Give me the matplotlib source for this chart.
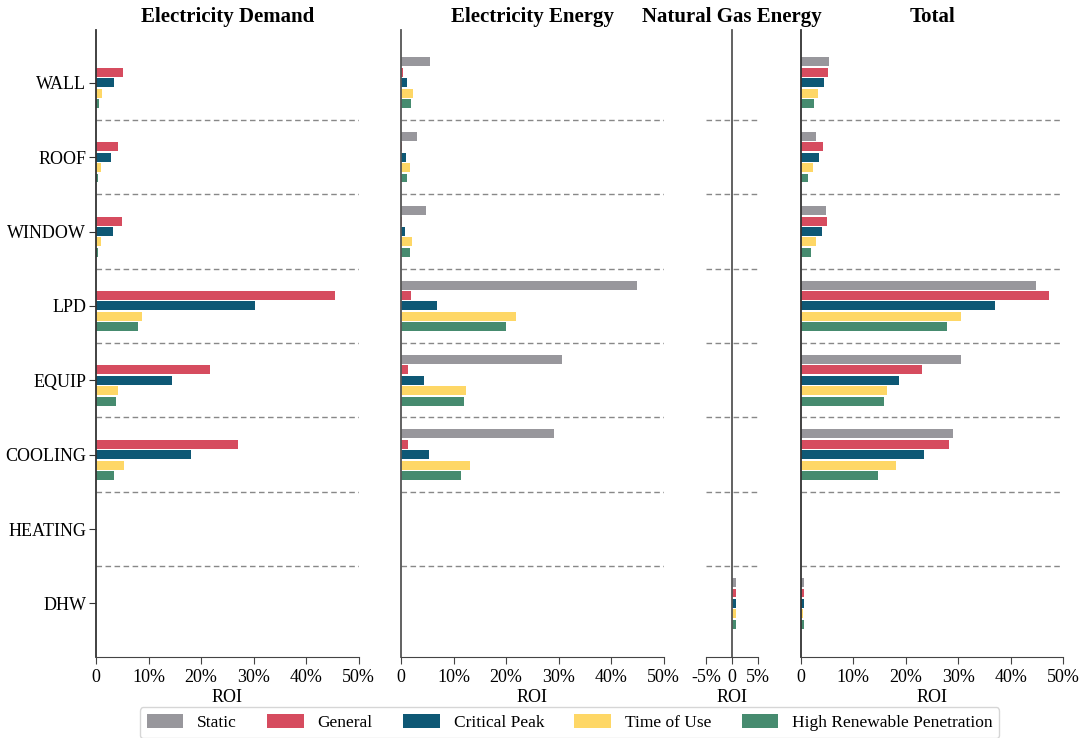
import matplotlib
matplotlib.use('Agg')
import matplotlib.pyplot as plt
import numpy as np
from matplotlib.ticker import FuncFormatter

plt.rcParams['font.family'] = ['Liberation Serif', 'DejaVu Serif']

measures = ['WALL', 'ROOF', 'WINDOW', 'LPD', 'EQUIP', 'COOLING', 'HEATING', 'DHW']
tariffs = ['Static', 'General', 'Critical Peak', 'Time of Use', 'High Renewable Penetration']
colors = ['#98979c', '#d64c5f', '#0e5875', '#fed766', '#468b6f']

# ROI in percent, one list per tariff, ordered as measures
demand_static = [0, 0, 0, 0, 0, 0, 0, 0]
demand_general = [5.1, 4.2, 4.9, 45.4, 21.7, 27.0, 0, 0]
demand_critical = [3.4, 2.9, 3.2, 30.2, 14.4, 18.1, 0, 0]
demand_tou = [1.1, 0.9, 0.9, 8.7, 4.1, 5.3, 0, 0]
demand_hrp = [0.6, 0.3, 0.3, 8.0, 3.8, 3.4, 0, 0]

elec_static = [5.5, 3.0, 4.8, 45.0, 30.7, 29.1, 0, 0]
elec_general = [0.3, 0.2, 0.2, 1.9, 1.3, 1.3, 0, 0]
elec_critical = [1.1, 0.95, 0.8, 6.9, 4.4, 5.3, 0, 0]
elec_tou = [2.3, 1.7, 2.1, 21.9, 12.4, 13.1, 0, 0]
elec_hrp = [1.9, 1.1, 1.7, 20.0, 12.0, 11.4, 0.05, 0.05]

gas_static = [0, 0, 0, 0, 0, 0, 0, 0.7]
gas_general = [0, 0, 0, 0, 0, 0, 0, 0.7]
gas_critical = [0, 0, 0, 0, 0, 0, 0, 0.7]
gas_tou = [0, 0, 0, 0, 0, 0, 0, 0.7]
gas_hrp = [0, 0, 0, 0, 0, 0, 0, 0.7]

total_static = [5.4, 2.9, 4.8, 44.7, 30.5, 29.0, 0, 0.6]
total_general = [5.2, 4.2, 5.0, 47.3, 23.0, 28.3, 0, 0.6]
total_critical = [4.4, 3.5, 4.1, 37.0, 18.8, 23.4, 0, 0.6]
total_tou = [3.3, 2.3, 2.9, 30.5, 16.5, 18.2, 0, 0.5]
total_hrp = [2.5, 1.4, 2.0, 27.9, 15.8, 14.8, 0, 0.6]

panels = [
    ('Electricity Demand', [demand_static, demand_general, demand_critical, demand_tou, demand_hrp],
     (0, 50), [0, 10, 20, 30, 40, 50]),
    ('Electricity Energy', [elec_static, elec_general, elec_critical, elec_tou, elec_hrp],
     (0, 50), [0, 10, 20, 30, 40, 50]),
    ('Natural Gas Energy', [gas_static, gas_general, gas_critical, gas_tou, gas_hrp],
     (-5, 5), [-5, 0, 5]),
    ('Total', [total_static, total_general, total_critical, total_tou, total_hrp],
     (0, 50), [0, 10, 20, 30, 40, 50]),
]

fig = plt.figure(figsize=(10.81, 7.38), dpi=100)
bottom, height = 0.1098, 0.8496
rects = [(0.0888, 0.243), (0.3710, 0.243), (0.6531, 0.0481), (0.7407, 0.243)]

pct = FuncFormatter(lambda v, p: '0' if abs(v) < 1e-9 else f'{v:.0f}%')
y = np.arange(len(measures))
pitch, bh = 0.14, 0.12

for i, ((title, series, xlim, xticks), (left, width)) in enumerate(zip(panels, rects)):
    ax = fig.add_axes([left, bottom, width, height])
    for k, (vals, c) in enumerate(zip(series, colors)):
        ax.barh(y + (k - 2) * pitch, vals, height=bh, color=c,
                label=tariffs[k], zorder=2)
    for yy in np.arange(0.5, len(measures) - 1, 1):
        ax.axhline(yy, color='#888888', ls='--', lw=1.0, dashes=(4, 2.5), zorder=1)
    ax.set_xlim(*xlim)
    ax.set_ylim(7.72, -0.71)
    ax.set_xticks(xticks)
    ax.xaxis.set_major_formatter(pct)
    ax.tick_params(axis='x', labelsize=13, length=5, color='#444444')
    ax.set_xlabel('ROI', fontsize=13, labelpad=2)
    ax.set_title(title, fontsize=15, fontweight='bold', pad=6)
    ax.spines['top'].set_visible(False)
    ax.spines['right'].set_visible(False)
    ax.spines['bottom'].set_color('#444444')
    ax.spines['left'].set_color('#333333')
    ax.spines['left'].set_linewidth(1.3)
    if i == 0:
        ax.set_yticks(y)
        ax.set_yticklabels(measures)
        ax.tick_params(axis='y', labelsize=13, length=5, pad=2, color='#333333')
    else:
        ax.set_yticks([])
    if i == 2:
        ax.spines['left'].set_position(('data', 0))
        ax.spines['left'].set_color('#555555')
    if i == 1:
        ax.spines['left'].set_color('#555555')

handles, labels = ax.get_legend_handles_labels()
fig.legend(handles, labels, loc='lower center', ncol=5, fontsize=12.5,
           bbox_to_anchor=(0.527, -0.012), frameon=True, fancybox=True,
           handlelength=2.1, handleheight=0.9, columnspacing=1.75,
           edgecolor='#cccccc')

fig.savefig('out.png', dpi=100)
